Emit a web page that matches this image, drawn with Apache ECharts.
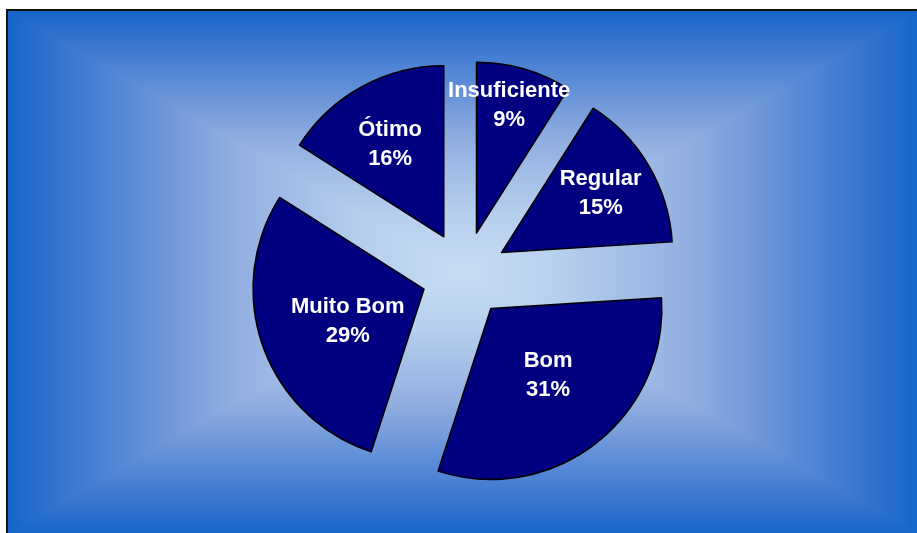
<!DOCTYPE html>
<html>
<head>
<meta charset="utf-8">
<script src="https://cdn.jsdelivr.net/npm/echarts@6/dist/echarts.min.js"></script>
<style>
  html, body { margin: 0; padding: 0; background: #ffffff; }
  #chart { width: 917px; height: 533px; }
</style>
</head>
<body>
<div id="chart"></div>
<script>
const categories = ['Insuficiente', 'Regular', 'Bom', 'Muito Bom', 'Ótimo']
const shares = [9, 15, 31, 29, 16]

// nudges for the inner labels, so they sit where the original put them
const labelShift = [[8, -43], [23, -14], [3, -3], [7, 2], [-11, -15]]

const frame = { left: 7, top: 10, right: 918, bottom: 534 }
const cx = (frame.left + frame.right) / 2
const cy = (frame.top + frame.bottom) / 2

const bgStops = [
  { offset: 0, color: '#1565c9' },
  { offset: 0.2, color: '#4a80d4' },
  { offset: 0.5, color: '#92aee0' },
  { offset: 0.78, color: '#b6cfee' },
  { offset: 1, color: '#c8ddf4' },
]
// same ramp, mirrored, for the full-width base layer
const bgStopsMirror = bgStops
  .map((s) => ({ offset: s.offset / 2, color: s.color }))
  .concat(bgStops.slice(0, -1).reverse().map((s) => ({ offset: 1 - s.offset / 2, color: s.color })))

function bgGradient(x, y, x2, y2, colorStops) {
  return { type: 'linear', x, y, x2, y2, colorStops }
}

function bgTriangle(points, x, y, x2, y2) {
  const fill = bgGradient(x, y, x2, y2, bgStops)
  return {
    type: 'polygon',
    silent: true,
    z: -9,
    shape: { points },
    style: { fill, stroke: fill, lineWidth: 0.5 },
  }
}

const chart = echarts.init(document.getElementById('chart'))

const labelFont = {
  color: '#ffffff',
  fontSize: 22,
  fontWeight: 'bold',
  fontFamily: 'Liberation Sans, Arial, sans-serif',
  lineHeight: 29,
}

chart.setOption({
  animation: false,
  graphic: [
    {
      type: 'rect',
      silent: true,
      z: -10,
      shape: { x: frame.left, y: frame.top, width: frame.right - frame.left, height: frame.bottom - frame.top },
      style: { fill: bgGradient(0, 0, 1, 0, bgStopsMirror) },
    },
    bgTriangle([[frame.left, frame.top], [frame.right, frame.top], [cx, cy]], 0, 0, 0, 1),
    bgTriangle([[frame.left, frame.bottom], [frame.right, frame.bottom], [cx, cy]], 0, 1, 0, 0),
    {
      type: 'rect',
      silent: true,
      z: -5,
      shape: { x: frame.left, y: frame.top, width: frame.right - frame.left + 4, height: frame.bottom - frame.top + 4 },
      style: { fill: null, stroke: '#111111', lineWidth: 2 },
    },
  ],
  series: [
    {
      type: 'pie',
      center: [464.5, 274.5],
      radius: 171,
      startAngle: 90,
      clockwise: true,
      selectedMode: 'multiple',
      selectedOffset: 43,
      avoidLabelOverlap: false,
      itemStyle: { color: '#000080', borderColor: '#000000', borderWidth: 1.5 },
      select: {
        itemStyle: { color: '#000080', borderColor: '#000000', borderWidth: 1.5 },
      },
      emphasis: { disabled: true },
      label: {
        show: true,
        position: 'inner',
        formatter: '{b}\n{c}%',
        ...labelFont,
      },
      labelLine: { show: false },
      labelLayout: (params) => ({
        dx: labelShift[params.dataIndex][0],
        dy: labelShift[params.dataIndex][1],
      }),
      data: categories.map((name, i) => ({
        name,
        value: shares[i],
        selected: true,
      })),
    },
  ],
})
</script>
</body>
</html>
